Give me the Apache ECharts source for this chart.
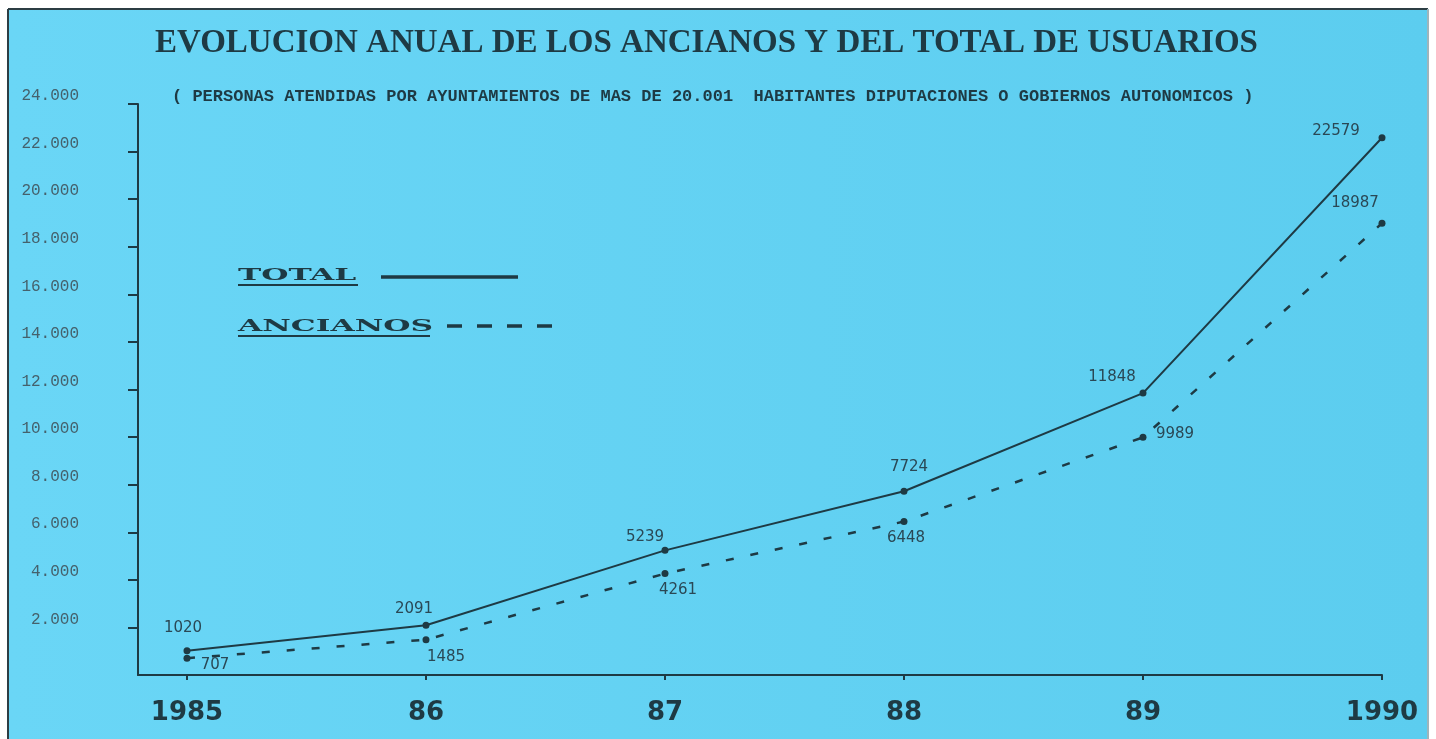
<!DOCTYPE html>
<html>
<head>
<meta charset="utf-8">
<script src="https://cdn.jsdelivr.net/npm/echarts@6/dist/echarts.min.js"></script>
<style>
html,body{margin:0;padding:0;background:#fff;}
#chart{width:1436px;height:739px;}
</style>
</head>
<body>
<div id="chart"></div>
<script>
// ---- data ----
const categories = ['1985', '86', '87', '88', '89', '1990'];
const totalValues = [1020, 2091, 5239, 7724, 11848, 22579];
const ancianosValues = [707, 1485, 4261, 6448, 9989, 18987];
const seriesNames = ['TOTAL', 'ANCIANOS'];
const titleText = 'EVOLUCION ANUAL DE LOS ANCIANOS Y DEL TOTAL DE USUARIOS';
const subtitleParts = ['( PERSONAS ATENDIDAS POR ', 'AYUNTAMIENTOS', ' DE MAS DE 20.001  HABITANTES DIPUTACIONES O GOBIERNOS AUTONOMICOS )'];

// label placement (pixel offsets from each point)
const totalLabelOffsets = [[-4, -23], [-12, -16], [-20, -13], [5, -24], [-31, -16], [-46, -7]];
const ancianosLabelOffsets = [[28, 7], [20, 17], [13, 16], [2, 17], [32, -3], [-27, -20]];

const ink = '#1e3a44';
const chart = echarts.init(document.getElementById('chart'), null, {renderer: 'canvas'});

function buildData(values, offsets) {
  return values.map((v, i) => ({
    value: [i, v],
    label: {offset: offsets[i]}
  }));
}
const idx = categories.map((c, i) => i);

const option = {
  animation: false,
  backgroundColor: '#ffffff',
  title: [
    {
      text: titleText,
      left: 150, top: 22,
      textStyle: {fontFamily: 'Liberation Serif', fontWeight: 'bold', fontSize: 33, color: ink}
    },
    {
      text: '{n|' + subtitleParts[0] + '}{b|' + subtitleParts[1] + '}{n|' + subtitleParts[2] + '}',
      left: 167, top: 83,
      textStyle: {
        rich: {
          n: {fontFamily: 'Liberation Mono', fontSize: 17, color: ink},
          b: {fontFamily: 'Liberation Mono', fontSize: 17, fontWeight: 'bold', color: ink}
        }
      }
    }
  ],
  grid: {left: 138, right: 54, top: 104, bottom: 64, containLabel: false},
  xAxis: {
    type: 'value',
    min: -0.205, max: categories.length - 1,
    axisLine: {show: true, onZero: false, lineStyle: {color: ink, width: 2}},
    axisTick: {show: true, customValues: idx, length: 5, lineStyle: {color: ink, width: 2}},
    axisLabel: {
      show: true, customValues: idx, margin: 25,
      formatter: v => categories[Math.round(v)],
      fontFamily: 'DejaVu Sans', fontWeight: 'bold', fontSize: 26, color: ink
    },
    splitLine: {show: false}
  },
  yAxis: {
    type: 'value',
    min: 0, max: 24000, interval: 2000,
    axisLine: {show: true, onZero: false, lineStyle: {color: ink, width: 2}},
    axisTick: {show: true, length: 10, lineStyle: {color: ink, width: 2}},
    axisLabel: {
      showMinLabel: false, margin: 59, verticalAlign: 'bottom',
      formatter: v => (v / 1000) + '.000',
      fontFamily: 'Liberation Mono', fontSize: 16, color: '#45616c'
    },
    splitLine: {show: false}
  },
  graphic: [
    {
      type: 'rect', z: -100, silent: true,
      shape: {x: 8, y: 9, width: 1420, height: 740},
      style: {
        fill: new echarts.graphic.LinearGradient(0, 0, 1, 0, [
          {offset: 0, color: '#6ad6f6'}, {offset: 1, color: '#5ccdef'}
        ])
      }
    },
    {type: 'line', z: -90, shape: {x1: 8, y1: 9, x2: 1428, y2: 9}, style: {stroke: '#2c3e44', lineWidth: 2}},
    {type: 'line', z: -90, shape: {x1: 8, y1: 9, x2: 8, y2: 739}, style: {stroke: '#2c3e44', lineWidth: 2}},
    {type: 'line', z: -90, shape: {x1: 1428, y1: 9, x2: 1428, y2: 739}, style: {stroke: '#9fb4ba', lineWidth: 2}},
    // legend
    {
      type: 'text', x: 238, y: 276, scaleX: 1.84, scaleY: 1,
      style: {text: seriesNames[0], x: 0, y: 0, font: 'bold 17px "DejaVu Serif"', fill: ink, textVerticalAlign: 'middle', verticalAlign: 'middle'}
    },
    {type: 'line', shape: {x1: 238, y1: 285, x2: 358, y2: 285}, style: {stroke: ink, lineWidth: 2}},
    {type: 'line', shape: {x1: 381, y1: 277, x2: 518, y2: 277}, style: {stroke: ink, lineWidth: 3.5}},
    {
      type: 'text', x: 238, y: 327, scaleX: 1.84, scaleY: 1,
      style: {text: seriesNames[1], x: 0, y: 0, font: 'bold 17px "DejaVu Serif"', fill: ink, textVerticalAlign: 'middle', verticalAlign: 'middle'}
    },
    {type: 'line', shape: {x1: 238, y1: 336, x2: 430, y2: 336}, style: {stroke: ink, lineWidth: 2}},
    {type: 'line', shape: {x1: 447, y1: 326, x2: 557, y2: 326}, style: {stroke: ink, lineWidth: 3.5, lineDash: [15, 15]}}
  ],
  series: [
    {
      name: seriesNames[0], type: 'line',
      data: buildData(totalValues, totalLabelOffsets),
      symbol: 'circle', symbolSize: 7,
      lineStyle: {color: ink, width: 2},
      itemStyle: {color: ink},
      label: {show: true, position: 'inside', formatter: p => String(p.value[1]),
        fontFamily: 'DejaVu Sans', fontSize: 15, color: '#2a4855'}
    },
    {
      name: seriesNames[1], type: 'line',
      data: buildData(ancianosValues, ancianosLabelOffsets),
      symbol: 'circle', symbolSize: 7,
      lineStyle: {color: ink, width: 2.5, type: [8, 17]},
      itemStyle: {color: ink},
      label: {show: true, position: 'inside', formatter: p => String(p.value[1]),
        fontFamily: 'DejaVu Sans', fontSize: 15, color: '#2a4855'}
    }
  ]
};
chart.setOption(option);
</script>
</body>
</html>
